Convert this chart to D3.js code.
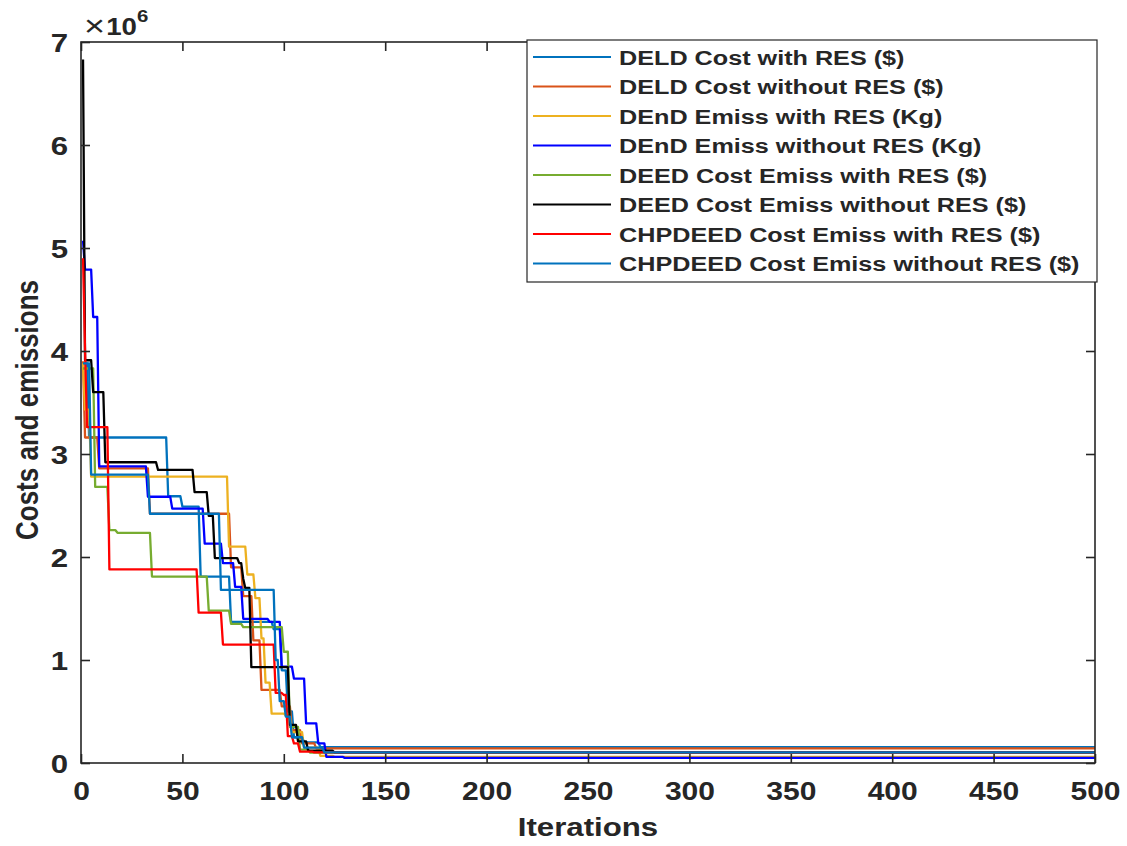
<!DOCTYPE html>
<html>
<head>
<meta charset="utf-8">
<script src="https://cdn.jsdelivr.net/npm/d3@7"></script>
<style>
  html, body { margin: 0; padding: 0; background: #fff; }
  svg text { font-family: "Liberation Sans", Arial, sans-serif; fill: #262626; }
</style>
</head>
<body>
<svg id="chart" width="1127" height="846"></svg>
<script>
// step breakpoints: [iteration, value in 1e6]
const deldCostWithRes = [[1,3.88],[4,3.16],[43,2.59],[50,2.49],[59,1.81],[74,1.37],[95,1.30],[99,0.90],[102,0.50],[105,0.25],[110,0.20],[118,0.155]];
const deldCostWithoutRes = [[1,3.90],[2,3.16],[9,2.86],[34,2.42],[74,1.90],[80,1.62],[85,1.19],[89,0.71],[99,0.55],[104,0.32],[109,0.19],[116,0.142]];
const dendEmissWithRes = [[1,3.88],[2,3.43],[5,2.78],[73,2.10],[82,1.83],[86,1.60],[89,1.21],[91,0.78],[94,0.48],[101,0.46],[104,0.30],[110,0.15],[118,0.07],[125,0.06]];
const dendEmissWithoutRes = [[1,5.07],[2,4.79],[6,4.33],[9,2.88],[33,2.585],[45,2.47],[61,2.13],[70,1.94],[76,1.71],[80,1.40],[93,1.37],[99,0.935],[105,0.82],[111,0.385],[117,0.19],[121,0.06],[130,0.05]];
const deedCostEmissWithRes = [[1,3.83],[7,2.68],[14,2.26],[18,2.235],[35,1.81],[63,1.48],[74,1.35],[80,1.32],[100,1.08],[103,0.35],[108,0.13],[113,0.10]];
const deedCostEmissWithoutRes = [[1,6.83],[2,3.91],[6,3.60],[12,2.92],[38,2.845],[56,2.63],[63,2.40],[66,1.99],[78,1.94],[80,1.79],[81,1.70],[84,0.93],[103,0.37],[107,0.21],[112,0.12],[125,0.104]];
const chpdeedCostEmissWithRes = [[1,4.90],[2,4.00],[3,3.26],[14,1.88],[58,1.46],[70,1.15],[96,0.68],[100,0.66],[102,0.26],[105,0.19],[108,0.11],[115,0.104]];
const chpdeedCostEmissWithoutRes = [[1,3.88],[5,2.80],[34,2.42],[69,1.68],[96,1.00],[98,0.60],[101,0.45],[104,0.25],[110,0.15],[120,0.104]];

const seriesNames = [
  "DELD Cost with RES ($)",
  "DELD Cost without RES ($)",
  "DEnD Emiss with RES (Kg)",
  "DEnD Emiss without RES (Kg)",
  "DEED Cost Emiss with RES ($)",
  "DEED Cost Emiss without RES ($)",
  "CHPDEED Cost Emiss with RES ($)",
  "CHPDEED Cost Emiss without RES ($)"
];
const seriesData = [deldCostWithRes, deldCostWithoutRes, dendEmissWithRes, dendEmissWithoutRes,
  deedCostEmissWithRes, deedCostEmissWithoutRes, chpdeedCostEmissWithRes, chpdeedCostEmissWithoutRes];
const seriesColors = ["#0072BD", "#D95319", "#EDB120", "#0000FF", "#77AC30", "#000000", "#FF0000", "#0072BD"];

const xTicks = [0, 50, 100, 150, 200, 250, 300, 350, 400, 450, 500];
const yTicks = [0, 1, 2, 3, 4, 5, 6, 7];
const maxIter = 500;

const svg = d3.select("#chart");
const plotLeft = 81, plotRight = 1095, plotTop = 42, plotBottom = 763;
const sx = 1.2; // horizontal stretch of the original figure's text

const x = d3.scaleLinear().domain([0, 500]).range([plotLeft, plotRight]);
const y = d3.scaleLinear().domain([0, 7]).range([plotBottom, plotTop]);

// turn step breakpoints into the points MATLAB would connect
function toPoints(steps) {
  const pts = [steps[0]];
  for (let i = 1; i < steps.length; i++) {
    pts.push([steps[i][0] - 1, steps[i - 1][1]]);
    pts.push(steps[i]);
  }
  pts.push([maxIter, steps[steps.length - 1][1]]);
  return pts;
}

const line = d3.line().x(d => x(d[0])).y(d => y(d[1]));

svg.append("g")
  .selectAll("path")
  .data(seriesData)
  .join("path")
  .attr("d", d => line(toPoints(d)))
  .attr("fill", "none")
  .attr("stroke", (d, i) => seriesColors[i])
  .attr("stroke-width", 2.3)
  .attr("stroke-linejoin", "round");

// axes with inward ticks, mirrored on top/right
const tickLen = 9;
const axisColor = "#262626";
const xAxis = svg.append("g").attr("transform", `translate(0,${plotBottom})`)
  .call(d3.axisBottom(x).tickValues(xTicks).tickSizeInner(-tickLen).tickSizeOuter(0).tickPadding(0));
const xAxisTop = svg.append("g").attr("transform", `translate(0,${plotTop})`)
  .call(d3.axisTop(x).tickValues(xTicks).tickSizeInner(-tickLen).tickSizeOuter(0).tickFormat(""));
const yAxis = svg.append("g").attr("transform", `translate(${plotLeft},0)`)
  .call(d3.axisLeft(y).tickValues(yTicks).tickFormat(d3.format("d")).tickSizeInner(-tickLen).tickSizeOuter(0).tickPadding(0));
const yAxisRight = svg.append("g").attr("transform", `translate(${plotRight},0)`)
  .call(d3.axisRight(y).tickValues(yTicks).tickSizeInner(-tickLen).tickSizeOuter(0).tickFormat(""));

[xAxis, xAxisTop, yAxis, yAxisRight].forEach(g => {
  g.select(".domain").remove();
  g.selectAll("line").attr("stroke", axisColor).attr("stroke-width", 1.6);
});

xAxis.selectAll("text")
  .attr("y", 0).attr("dy", 0)
  .attr("transform", `translate(0,37) scale(${sx},1)`)
  .attr("font-size", 25).attr("font-weight", "bold").attr("fill", axisColor)
  .style("font-family", "'Liberation Sans', Arial, sans-serif");
yAxis.selectAll("text")
  .attr("x", 0).attr("dy", 0)
  .attr("transform", `translate(-13,9.5) scale(${sx},1)`)
  .attr("font-size", 26).attr("font-weight", "bold").attr("fill", axisColor)
  .style("font-family", "'Liberation Sans', Arial, sans-serif");

// box
svg.append("rect")
  .attr("x", plotLeft).attr("y", plotTop)
  .attr("width", plotRight - plotLeft).attr("height", plotBottom - plotTop)
  .attr("fill", "none").attr("stroke", axisColor).attr("stroke-width", 1.6);

// exponent label
const expo = svg.append("text")
  .attr("transform", `translate(84,35) scale(${sx},1)`)
  .attr("font-size", 23);
expo.append("tspan").attr("font-size", 30).attr("dy", 1).text("\u00d7");
expo.append("tspan").attr("font-weight", "bold").attr("dx", 1).attr("dy", -1).text("10");
expo.append("tspan").attr("font-weight", "bold").attr("font-size", 17).attr("dy", -13).text("6");

// axis titles
svg.append("text")
  .attr("transform", `translate(${(plotLeft + plotRight) / 2},836) scale(${sx},1)`)
  .attr("text-anchor", "middle").attr("font-size", 26).attr("font-weight", "bold")
  .text("Iterations");
svg.append("text")
  .attr("transform", `translate(38,410) rotate(-90) scale(1,${sx})`)
  .attr("text-anchor", "middle").attr("font-size", 26).attr("font-weight", "bold")
  .text("Costs and emissions");

// legend
const legend = svg.append("g");
legend.append("rect")
  .attr("x", 527).attr("y", 40).attr("width", 570).attr("height", 242)
  .attr("fill", "#fff").attr("stroke", axisColor).attr("stroke-width", 1.2);
const rowY = i => 57 + i * 29.5;
legend.selectAll("line.item")
  .data(seriesNames)
  .join("line")
  .attr("class", "item")
  .attr("x1", 533).attr("x2", 611)
  .attr("y1", (d, i) => rowY(i)).attr("y2", (d, i) => rowY(i))
  .attr("stroke", (d, i) => seriesColors[i]).attr("stroke-width", 2);
legend.selectAll("text.item")
  .data(seriesNames)
  .join("text")
  .attr("class", "item")
  .attr("transform", (d, i) => `translate(619,${rowY(i) + 7.5}) scale(${sx},1)`)
  .attr("font-size", 21).attr("font-weight", "bold").attr("fill", "#000")
  .text(d => d);
</script>
</body>
</html>
